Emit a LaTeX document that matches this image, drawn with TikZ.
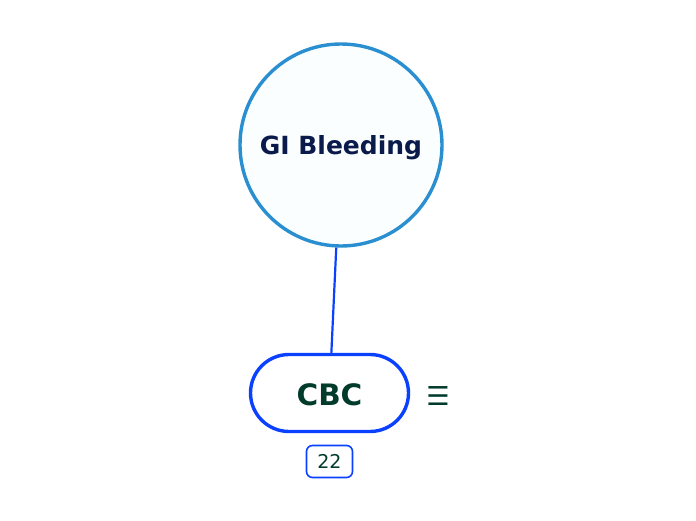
\documentclass[tikz,border=0pt]{standalone}
\usepackage{fontspec}
\setmainfont{DejaVu Sans}
\usetikzlibrary{shapes}
\definecolor{rootblue}{HTML}{2A8FD0}
\definecolor{rootfill}{HTML}{FBFEFE}
\definecolor{linkblue}{HTML}{0A40FF}
\definecolor{rootink}{HTML}{0A1A4A}
\definecolor{leafink}{HTML}{003B2B}
\tikzset{>=latex,
  root/.style={circle,draw=rootblue,fill=rootfill,line width=3.4pt,minimum size=202pt,inner sep=0pt,text depth=0pt,text=rootink,font=\fontsize{25}{28}\selectfont\bfseries},
  leaf/.style={rounded rectangle,draw=linkblue,fill=white,line width=3.4pt,minimum width=158pt,minimum height=77pt,inner sep=0pt,text height=25pt,text depth=0pt,text=leafink,font=\fontsize{29.5}{32}\selectfont\bfseries},
  badge/.style={rectangle,rounded corners=6pt,draw=linkblue,line width=1.6pt,minimum width=46pt,minimum height=32pt,inner sep=0pt,text=leafink,font=\fontsize{19}{21}\selectfont}
}

\begin{document}
\begin{tikzpicture}[x=1pt,y=-1pt]

\useasboundingbox (0,0) rectangle (696,520);

%%% Root topic
\node[root] (gi) at (341,145) {GI Bleeding};

%%% Sub topic
\node[leaf] (cbc) at (329.5,393) {CBC};
\node[text=leafink,font=\fontsize{26}{28}\selectfont] (cbcnote) at (438,396) {☰};
\node[badge] (cbccount) at (329.5,461.5) {22};

\draw [linkblue,line width=2.2pt] (gi) -- (cbc);

\end{tikzpicture}
\end{document}
